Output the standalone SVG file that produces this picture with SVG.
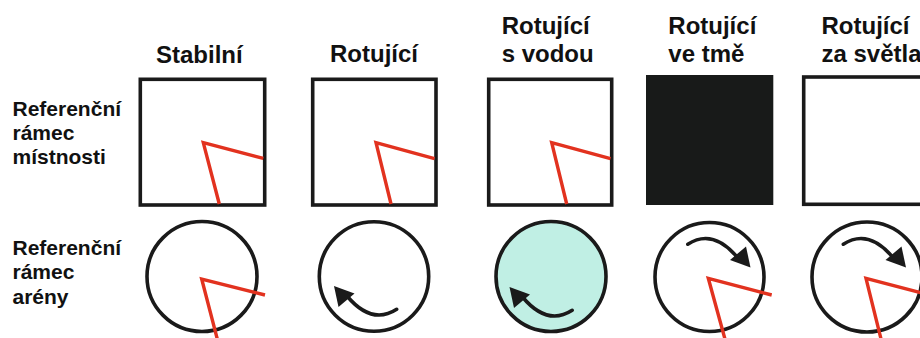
<svg xmlns="http://www.w3.org/2000/svg" width="920" height="338" viewBox="0 0 920 338">
<style>
.t{font-family:"Liberation Sans",Arial,sans-serif;font-weight:bold;fill:#111;}
.h{font-size:24px;}
.s{font-size:21px;}
.sq{fill:#fff;stroke:#1a1a1a;stroke-width:3.6;}
.ci{fill:#fff;stroke:#1a1a1a;stroke-width:3.6;}
.red{fill:none;stroke:#e2321f;stroke-width:3.4;stroke-linejoin:miter;}
.arc{fill:none;stroke:#1a1a1a;stroke-width:3.6;stroke-linecap:round;}
</style>
<defs>
<g id="arrow">
<path class="arc" d="M22.7,32.8 Q-2.4,48.9 -27,19.5"/>
<polygon points="-40,9.5 -19.5,17 -35.5,30.5" fill="#1a1a1a"/>
</g>
</defs>
<rect width="920" height="338" fill="#fff"/>
<g id="row-labels">
<text class="t s" x="12.5" y="116">Referenční</text>
<text class="t s" x="12.5" y="140">rámec</text>
<text class="t s" x="12.5" y="164">místnosti</text>
<text class="t s" x="12.5" y="254.5">Referenční</text>
<text class="t s" x="12.5" y="279">rámec</text>
<text class="t s" x="12.5" y="303.5">arény</text>
</g>
<g id="col-labels">
<text class="t h" x="156" y="63">Stabilní</text>
<text class="t h" x="330" y="61.7">Rotující</text>
<text class="t h" x="501.7" y="33.5"><tspan x="501.7">Rotující</tspan><tspan x="501.7" y="61.7">s vodou</tspan></text>
<text class="t h" x="668.3" y="33.5"><tspan x="668.3">Rotující</tspan><tspan x="668.3" y="61.7">ve tmě</tspan></text>
<text class="t h" x="821.5" y="33.5"><tspan x="821.5">Rotující</tspan><tspan x="821.5" y="61.7">za světla</tspan></text>
</g>
<g id="room-stable">
<rect class="sq" x="140.3" y="79.3" width="124.4" height="125.7"/>
<polyline class="red" points="263.3,158.3 203.3,142.7 219.3,204"/>
</g>
<g id="room-rotating">
<rect class="sq" x="312.7" y="79.3" width="123.3" height="125.7"/>
<polyline class="red" points="434.5,158.7 376,142.7 391,204"/>
</g>
<g id="room-water">
<rect class="sq" x="488.7" y="79.3" width="123" height="125.7"/>
<polyline class="red" points="610.5,158.7 551.7,142.7 566.7,204"/>
</g>
<g id="room-dark">
<rect x="646" y="75" width="127.3" height="130" fill="#181a19"/>
</g>
<g id="room-light">
<rect class="sq" x="803.7" y="77" width="124" height="127.3"/>
</g>
<g id="arena-stable">
<circle class="ci" cx="202" cy="276.5" r="55"/>
<polyline class="red" points="265,295 201.7,279 217.8,341"/>
</g>
<g id="arena-rotating">
<circle class="ci" cx="374" cy="276.5" r="54.7"/>
<use href="#arrow" transform="translate(374,276.5)"/>
</g>
<g id="arena-water">
<circle class="ci" cx="551" cy="276.5" r="55" style="fill:#c0efe4"/>
<use href="#arrow" transform="translate(549.5,277.5)"/>
</g>
<g id="arena-dark">
<circle class="ci" cx="709.5" cy="277" r="54.5"/>
<use href="#arrow" transform="translate(710.5,277) rotate(180)"/>
<polyline class="red" points="771.7,295 708.3,278.3 725.5,341"/>
</g>
<g id="arena-light">
<circle class="ci" cx="867" cy="277" r="55"/>
<use href="#arrow" transform="translate(866,277) rotate(180)"/>
<polyline class="red" points="929.5,295 866,278.3 881.5,341"/>
</g>
</svg>
